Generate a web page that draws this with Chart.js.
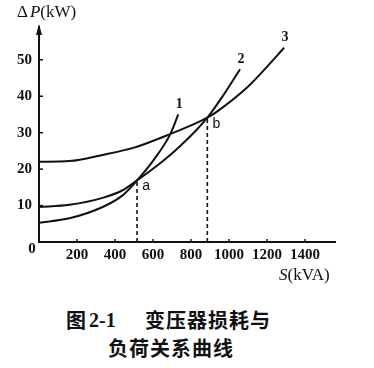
<!DOCTYPE html>
<html>
<head>
<meta charset="utf-8">
<script src="https://cdn.jsdelivr.net/npm/chart.js@4/dist/chart.umd.min.js"></script>
<style>
  html,body{margin:0;padding:0;background:#fff;}
  #wrap{position:relative;width:374px;height:368px;overflow:hidden;}
  canvas{position:absolute;left:0;top:0;}
  .cap{position:absolute;color:#111;font-family:"Noto Sans CJK SC";font-size:20px;font-weight:700;line-height:20px;white-space:nowrap;}
  .num{font-family:"Liberation Serif";font-weight:700;font-size:20px;}
</style>
</head>
<body>
<div id="wrap">
  <canvas id="c" width="374" height="290"></canvas>
  <div class="cap" style="left:66px;top:310px;">图</div>
  <div class="cap num" style="left:89px;top:310px;">2-1</div>
  <div class="cap" style="left:145px;top:310px;letter-spacing:1px;">变压器损耗与</div>
  <div class="cap" style="left:108px;top:338px;letter-spacing:1px;">负荷关系曲线</div>
</div>
<script>
// ---- data ----
const loadS_1 = [0, 160, 335, 440, 516, 602, 689, 733];
const lossP_1 = [5.3, 6.5, 9.6, 12.8, 16.9, 22.4, 29.4, 35.0];

const loadS_2 = [0, 160, 335, 440, 516, 654, 742, 830, 886, 968, 1058];
const lossP_2 = [9.6, 10.2, 12.1, 14.2, 16.9, 22.3, 26.3, 30.8, 34.1, 40.1, 47.4];

const loadS_3 = [0, 160, 335, 500, 689, 886, 953, 1095, 1179, 1290];
const lossP_3 = [22.0, 22.2, 23.9, 25.9, 29.6, 34.1, 36.4, 42.4, 46.9, 53.3];

const curveNames = ['1', '2', '3'];

const markNames = ['a', 'b'];
const markS = [516, 886];
const markP = [16.9, 34.1];

const xTickValues = [200, 400, 600, 800, 1000, 1200, 1400];
const yTickValues = [10, 20, 30, 40, 50];

const xTitle = 'S(kVA)';
const yTitle = 'ΔP(kW)';

// ---- build datasets ----
const ink = '#111';
function pts(xs, ys){ return xs.map((x,i)=>({x:x, y:ys[i]})); }
const curves = [pts(loadS_1,lossP_1), pts(loadS_2,lossP_2), pts(loadS_3,lossP_3)];
const datasets = curves.map((d,i)=>({
  label: curveNames[i], data: d, borderColor: ink, borderWidth: 2,
  pointRadius: 0, fill: false, cubicInterpolationMode: 'monotone'
}));
markS.forEach((s,i)=>{
  datasets.push({label: markNames[i], data: [{x:s,y:0},{x:s,y:markP[i]}],
    borderColor: ink, borderWidth: 1.6, borderDash: [4,3], pointRadius: 0, fill:false});
});

const serifBold = {family: 'Liberation Serif', size: 15, weight: 'bold'};

const decor = {
  id: 'decor',
  afterDraw(chart){
    const c = chart.ctx, xs = chart.scales.x, ys = chart.scales.y, a = chart.chartArea;
    c.save();
    c.strokeStyle = ink; c.fillStyle = ink; c.lineWidth = 1.5;
    // inward tick marks
    yTickValues.forEach(v=>{ const y = ys.getPixelForValue(v);
      c.beginPath(); c.moveTo(a.left, y); c.lineTo(a.left+4, y); c.stroke(); });
    xTickValues.forEach(v=>{ const x = xs.getPixelForValue(v);
      c.beginPath(); c.moveTo(x, a.bottom); c.lineTo(x, a.bottom-3); c.stroke(); });
    // arrow on y axis
    c.beginPath(); c.moveTo(a.left, a.top-3); c.lineTo(a.left-3, a.top+8); c.lineTo(a.left+3, a.top+8); c.closePath(); c.fill();
    // origin label
    c.font = 'bold 15px "Liberation Serif"'; c.textAlign = 'center'; c.textBaseline = 'middle';
    c.fillText('0', a.left-7, a.bottom+7);
    // axis titles
    c.textAlign = 'left'; c.textBaseline = 'alphabetic';
    let x0 = 17;
    c.font = '17px "Liberation Serif"'; c.fillText(yTitle.slice(0,1), x0, 17); x0 += c.measureText(yTitle.slice(0,1)).width + 2;
    c.font = 'italic 17px "Liberation Serif"'; c.fillText(yTitle.slice(1,2), x0, 17); x0 += c.measureText(yTitle.slice(1,2)).width;
    c.font = '17px "Liberation Serif"'; c.fillText(yTitle.slice(2), x0, 17);
    x0 = 279;
    c.font = 'italic 17px "Liberation Serif"'; c.fillText(xTitle.slice(0,1), x0, 280); x0 += c.measureText(xTitle.slice(0,1)).width;
    c.font = '17px "Liberation Serif"'; c.fillText(xTitle.slice(1), x0, 280);
    // curve labels at curve ends
    c.font = 'bold 14px "Liberation Serif"'; c.textAlign = 'center'; c.textBaseline = 'middle';
    curves.forEach((d,i)=>{ const p = d[d.length-1];
      c.fillText(curveNames[i], xs.getPixelForValue(p.x)+1, ys.getPixelForValue(p.y)-10); });
    // intersection labels
    c.font = '14px "Liberation Sans"';
    markS.forEach((s,i)=>{
      c.fillText(markNames[i], xs.getPixelForValue(s)+9, ys.getPixelForValue(markP[i])+6); });
    c.restore();
  }
};

new Chart(document.getElementById('c'), {
  type: 'line',
  data: {datasets: datasets},
  plugins: [decor],
  options: {
    responsive: false, animation: false,
    layout: {padding: {top: 27, right: 38.6, left: 0, bottom: 0}},
    plugins: {legend: {display: false}, tooltip: {enabled: false}},
    scales: {
      x: {type: 'linear', min: 0, max: 1560,
        afterFit(s){ s.height = 48; },
        afterBuildTicks(s){ s.ticks = xTickValues.map(v=>({value:v})); },
        ticks: {color: ink, font: serifBold, padding: 4, maxRotation: 0, autoSkip: false,
                callback: v => String(v)},
        grid: {display: false, drawTicks: false},
        border: {display: true, color: ink, width: 2}},
      y: {type: 'linear', min: 0, max: 59,
        afterFit(s){ s.width = 39; },
        afterBuildTicks(s){ s.ticks = yTickValues.map(v=>({value:v})); },
        ticks: {color: ink, font: serifBold, padding: 7, callback: v => String(v)},
        grid: {display: false, drawTicks: false},
        border: {display: true, color: ink, width: 2}}
    }
  }
});
</script>
</body>
</html>
